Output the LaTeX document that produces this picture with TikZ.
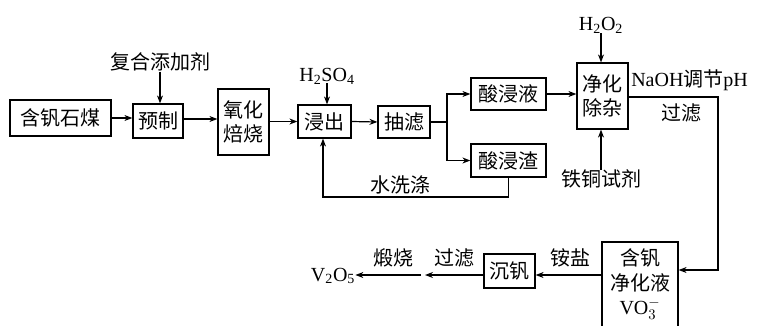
\documentclass[tikz,border=0pt]{standalone}
\usepackage{fontspec}
\setmainfont{Liberation Serif}
\newfontfamily\cjk{Noto Sans CJK SC}
\usetikzlibrary{arrows.meta,calc}
\begin{document}
\begin{tikzpicture}[x=0.75pt,y=-0.75pt,
  box/.style={draw,line width=0.9pt,inner sep=0pt,font=\fontsize{15pt}{18pt}\cjk,align=center},
  lbl/.style={inner sep=0pt,font=\fontsize{15pt}{18pt}\cjk},
  lat/.style={inner sep=0pt,font=\fontsize{15pt}{18pt}\selectfont},
  arr/.style={line width=0.9pt,-{Stealth[length=6pt,width=4.5pt]}},
  ln/.style={line width=0.9pt}]
\useasboundingbox (0,0) rectangle (763,325);
% boxes
\node[box,minimum width=75.75pt,minimum height=27pt] (n1) at (60.5,118) {含钒石煤};
\node[box,minimum width=37.5pt,minimum height=25.5pt] (n2) at (158,121) {预制};
\node[box,minimum width=38.25pt,minimum height=49.5pt] (n3) at (243.5,122) {氧化\\焙烧};
\node[box,minimum width=39.75pt,minimum height=24.75pt] (n4) at (324.5,121.5) {浸出};
\node[box,minimum width=39pt,minimum height=24pt] (n5) at (404,122) {抽滤};
\node[box,minimum width=56.25pt,minimum height=24pt] (n6) at (508.5,94) {酸浸液};
\node[box,minimum width=56.25pt,minimum height=24.75pt] (n7) at (508.5,160.5) {酸浸渣};
\node[box,minimum width=38.25pt,minimum height=49.5pt] (n8) at (602.5,96) {净化\\除杂};
\node[draw,line width=0.9pt,minimum width=57pt,minimum height=66pt,inner sep=0pt] (n9) at (640,286) {};
\node[lbl] (t9a) at (640,258) {含钒};
\node[lbl] (t9b) at (640,283) {净化液};
\node[lat] (t9c) at (640,309) {VO$_3^-$};
\node[box,minimum width=38.25pt,minimum height=25.5pt] (n10) at (509.5,271) {沉钒};
% inputs
\node[lbl] (add) at (160,62) {复合添加剂};
\node[lat] (h2so4) at (327,76) {H\textsubscript{2}SO\textsubscript{4}};
\node[lat] (h2o2) at (601,25) {H\textsubscript{2}O\textsubscript{2}};
\node[lbl] (fecu) at (601,179) {铁铜试剂};
\node[lat,anchor=west] (naoh) at (631,80) {NaOH{\cjk 调节}pH};
\node[lbl] (gl1) at (681,113) {过滤};
\node[lbl] (wash) at (400,185) {水洗涤};
\node[lbl] (an) at (570,258) {铵盐};
\node[lbl] (gl2) at (454,258) {过滤};
\node[lbl] (ds) at (393,258) {煅烧};
\node[lat] (v2o5) at (333,276) {V\textsubscript{2}O\textsubscript{5}};
% coordinates
\coordinate (br) at (447,122);
\coordinate (r1) at (718,97);
\coordinate (r2) at (718,270);
\coordinate (w) at (323,197);
\coordinate (m1) at (425,275);
\coordinate (m2) at (421,275);
% arrows
\draw[arr] (n1.east) -- (n1.east -| n2.west);
\draw[arr] (n2.east |- 0,119) -- (n3.west |- 0,119);
\draw[arr] (n4.west -| n3.east) -- (n4.west);
\draw[arr] (n4.east) -- (n5.west);
\draw[ln] (n5.east) -- (br);
\draw[arr] (br) |- (n6.west);
\draw[arr] (br) |- (n7.west);
\draw[arr] (n6.east) -- (n6.east -| n8.west);
\draw[arr] (add.south) -- (add.south |- n2.north);
\draw[arr] (h2so4.south) ++(0,-1) -- (h2so4.south |- n4.north);
\draw[arr] (h2o2.south) -- (h2o2.south |- n8.north);
\draw[arr] (fecu.north) -- (fecu.north |- n8.south);
\draw[arr] (n8.east |- r1) -- (r1) -- (r2) -- (r2 -| n9.east);
\draw[arr] (n7.south) -- (n7.south |- w) -- (w) -- (w |- n4.south);
\draw[arr] (n9.west |- m1) -- (n10.east |- m1);
\draw[arr] (n10.west |- m1) -- (m1);
\draw[arr] (m2) -- (v2o5.east |- m2);
\end{tikzpicture}
\end{document}
